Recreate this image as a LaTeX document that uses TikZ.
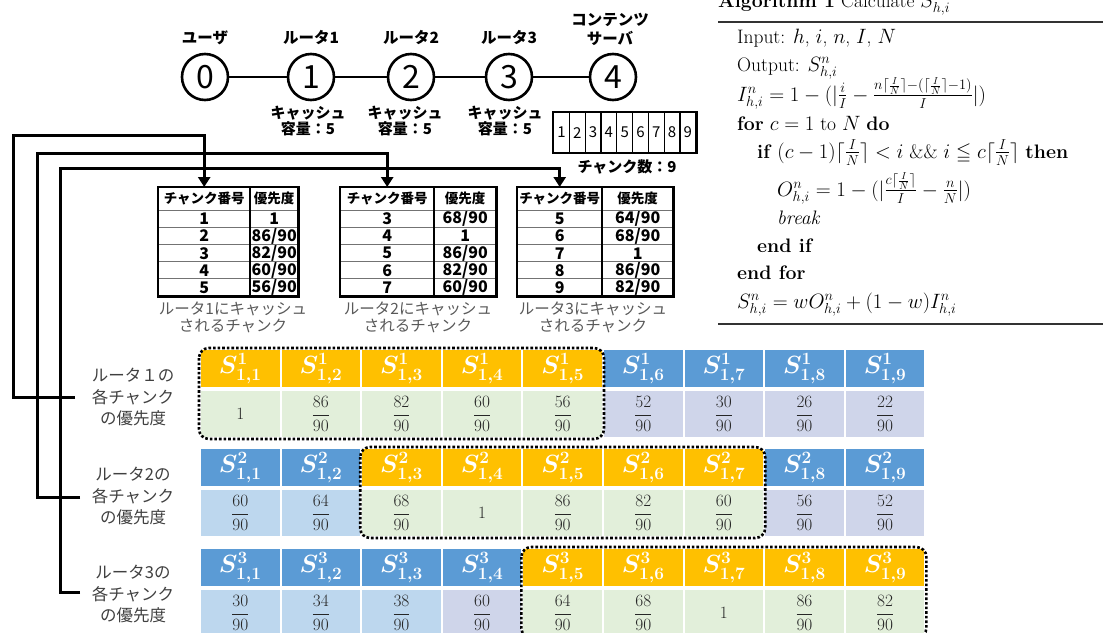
\documentclass[tikz,border=0pt]{standalone}
\usepackage{amsmath,amssymb}
\usepackage{fontspec}
\newfontfamily\jp{Noto Sans CJK JP}
\usetikzlibrary{arrows.meta}
\definecolor{orng}{HTML}{FFC000}
\definecolor{blu}{HTML}{5B9BD5}
\definecolor{grn}{HTML}{E2EFDA}
\definecolor{lbl}{HTML}{BDD7EE}
\definecolor{lav}{HTML}{CFD5EA}
\definecolor{capgray}{HTML}{595959}
\definecolor{rowgray}{HTML}{404040}
\definecolor{valtxt}{HTML}{262626}
\newcommand\setfs[2]{\fontsize{#1}{#2}\selectfont}
\newcommand\pv[1]{\ifnum#1=90 1\else #1/90\fi}
\newcommand\fv[1]{\ifnum#1=90 $1$\else $\displaystyle\frac{#1}{90}$\fi}
\begin{document}
\begin{tikzpicture}[x=1pt,y=-1pt,
 netcirc/.style={circle,draw,line width=2.6pt,minimum size=46pt,inner sep=0pt,font=\jp\setfs{32}{32}},
 netlbl/.style={font=\jp\bfseries\setfs{15.5}{19},align=center,inner sep=0pt},
 netline/.style={line width=2.6pt},
 cachelbl/.style={font=\jp\bfseries\setfs{15}{16.5},align=center,inner sep=0pt},
 chunkcell/.style={draw,line width=1.2pt,minimum width=15.8pt,minimum height=40pt,inner sep=0pt,anchor=north west,font=\jp\setfs{15}{15}},
 thc/.style={minimum height=23pt,inner sep=0pt,anchor=north west,font=\jp\bfseries\setfs{13.5}{14}},
 tdc/.style={minimum height=17.2pt,inner sep=0pt,anchor=north west,font=\jp\bfseries\setfs{16}{16}},
 tabcap/.style={font=\jp\setfs{15.5}{17},text=capgray,align=center,inner sep=0pt},
 conn/.style={line width=3pt},
 arrowend/.style={-{Triangle[width=12pt,length=10pt]}},
 hcell/.style={draw=white,line width=2pt,minimum width=80.6pt,minimum height=39pt,inner sep=0pt,anchor=north west,text=white,font=\setfs{27}{27}},
 vcell/.style={draw=white,line width=2pt,minimum width=80.6pt,minimum height=48pt,inner sep=0pt,anchor=north west,text=valtxt,font=\setfs{19}{19}},
 selbox/.style={draw=black,line width=2.6pt,dash pattern=on 2.6pt off 2pt,rounded corners=10pt},
 rowlbl/.style={font=\jp\setfs{16.5}{21.5},text=rowgray,align=center,inner sep=0pt},
 alg/.style={anchor=base west,inner sep=0pt,font=\setfs{19.5}{23}},
 algrule/.style={line width=1.2pt,draw=black!80}]
\useasboundingbox (0,0) rectangle (1103,632);

% network
\node[netcirc] (c0) at (205,77) {0};
\node[netcirc] (c1) at (311,77) {1};
\node[netcirc] (c2) at (411,77) {2};
\node[netcirc] (c3) at (509,77) {3};
\node[netcirc] (c4) at (613,77) {4};
\draw[netline] (c0) -- (c1) (c1) -- (c2) (c2) -- (c3) (c3) -- (c4);
\node[netlbl] (l0) at (205,38) {ユーザ};
\node[netlbl] (l1) at (311,38) {ルータ1};
\node[netlbl] (l2) at (411,38) {ルータ2};
\node[netlbl] (l3) at (509,38) {ルータ3};
\node[netlbl] (l4) at (610,29) {コンテンツ\\サーバ};
\node[cachelbl] (k1) at (308,121) {キャッシュ\\容量：5};
\node[cachelbl] (k2) at (405,121) {キャッシュ\\容量：5};
\node[cachelbl] (k3) at (505,121) {キャッシュ\\容量：5};
\foreach \i in {1,...,9} \node[chunkcell] (cb\i) at ({553+(\i-1)*15.8},112) {\i};
\draw[line width=2.4pt] (cb1.north west) rectangle (cb9.south east);
\node[cachelbl] (cbl) at (627,167) {チャンク数：9};

% tables
\node[thc,minimum width=92pt] (t1h) at (158,187) {チャンク番号};
\node[thc,minimum width=48pt] (t1p) at (250,187) {優先度};
\foreach \i/\n/\p in {1/1/90,2/2/86,3/3/82,4/4/60,5/5/56}{
  \node[tdc,minimum width=92pt] (t1n\i) at (158,{210+(\i-1)*17.2}) {\n};
  \node[tdc,minimum width=48pt] (t1p\i) at (250,{210+(\i-1)*17.2}) {\pv{\p}};
}
\node[thc,minimum width=94pt] (t2h) at (340,187) {チャンク番号};
\node[thc,minimum width=62pt] (t2p) at (434,187) {優先度};
\foreach \i/\n/\p in {1/3/68,2/4/90,3/5/86,4/6/82,5/7/60}{
  \node[tdc,minimum width=94pt] (t2n\i) at (340,{210+(\i-1)*17.2}) {\n};
  \node[tdc,minimum width=62pt] (t2p\i) at (434,{210+(\i-1)*17.2}) {\pv{\p}};
}
\node[thc,minimum width=85pt] (t3h) at (517,187) {チャンク番号};
\node[thc,minimum width=71pt] (t3p) at (602,187) {優先度};
\foreach \i/\n/\p in {1/5/64,2/6/68,3/7/90,4/8/86,5/9/82}{
  \node[tdc,minimum width=85pt] (t3n\i) at (517,{210+(\i-1)*17.2}) {\n};
  \node[tdc,minimum width=71pt] (t3p\i) at (602,{210+(\i-1)*17.2}) {\pv{\p}};
}
\foreach \a/\b in {158/298,340/496,517/673}
  \foreach \i in {0,...,4} \draw[line width=0.8pt,black!55] (\a,{210+\i*17.2}) -- (\b,{210+\i*17.2});
\foreach \t in {1,2,3}{
  \draw[line width=2.4pt] (t\t h.north west) rectangle (t\t p5.south east);
  \draw[line width=2.4pt] (t\t p.north west) -- (t\t p5.south west);
}
\node[tabcap] (cap1) at (233,317) {ルータ1にキャッシュ\\されるチャンク};
\node[tabcap] (cap2) at (418,317) {ルータ2にキャッシュ\\されるチャンク};
\node[tabcap] (cap3) at (593,317) {ルータ3にキャッシュ\\されるチャンク};

% matrix
\foreach \j/\v/\hc/\vc in {1/90/orng/grn,2/86/orng/grn,3/82/orng/grn,4/60/orng/grn,5/56/orng/grn,6/52/blu/lav,7/30/blu/lav,8/26/blu/lav,9/22/blu/lav}{
  \node[hcell,fill=\hc] (s1-\j) at ({199+(\j-1)*80.6},348) {$\boldsymbol{S^{1}_{1,\j}}$};
  \node[vcell,fill=\vc] (v1-\j) at ({199+(\j-1)*80.6},389) {\fv{\v}};
}
\foreach \j/\v/\hc/\vc in {1/60/blu/lbl,2/64/blu/lbl,3/68/orng/grn,4/90/orng/grn,5/86/orng/grn,6/82/orng/grn,7/60/orng/grn,8/56/blu/lav,9/52/blu/lav}{
  \node[hcell,fill=\hc] (s2-\j) at ({199+(\j-1)*80.6},447) {$\boldsymbol{S^{2}_{1,\j}}$};
  \node[vcell,fill=\vc] (v2-\j) at ({199+(\j-1)*80.6},488) {\fv{\v}};
}
\foreach \j/\v/\hc/\vc in {1/30/blu/lbl,2/34/blu/lbl,3/38/blu/lbl,4/60/blu/lav,5/64/orng/grn,6/68/orng/grn,7/90/orng/grn,8/86/orng/grn,9/82/orng/grn}{
  \node[hcell,fill=\hc] (s3-\j) at ({199+(\j-1)*80.6},547) {$\boldsymbol{S^{3}_{1,\j}}$};
  \node[vcell,fill=\vc] (v3-\j) at ({199+(\j-1)*80.6},588) {\fv{\v}};
}
\draw[selbox] (s1-1.north west) rectangle (v1-5.south east);
\draw[selbox] (s2-3.north west) rectangle (v2-7.south east);
\draw[selbox] (s3-5.north west) rectangle (v3-9.south east);

\node[rowlbl] (rl1) at (133,397) {ルータ１の\\各チャンク\\の優先度};
\node[rowlbl] (rl2) at (133,496) {ルータ2の\\各チャンク\\の優先度};
\node[rowlbl] (rl3) at (133,594) {ルータ3の\\各チャンク\\の優先度};

% connectors
\coordinate (e1) at (75,397); \coordinate (a1) at (13,397); \coordinate (b1) at (13,135);
\coordinate (e2) at (80,497); \coordinate (a2) at (37,497); \coordinate (b2) at (37,153);
\coordinate (e3) at (80,592); \coordinate (a3) at (60,592); \coordinate (b3) at (60,168);
\draw[conn,arrowend] (e1) -- (a1) -- (b1) -| (t1h.north);
\draw[conn,arrowend] (e2) -- (a2) -- (b2) -| (t2h.north);
\draw[conn,arrowend] (e3) -- (a3) -- (b3) -| (t3h.north);

% algorithm
\node[alg] (ah) at (718,7) {\textbf{Algorithm 1} Calculate $S^n_{h,i}$};
\draw[algrule] (718,22) -- (1103,22);
\node[alg] (a01) at (737,43) {Input: $h$, $i$, $n$, $I$, $N$};
\node[alg] (a02) at (737,71) {Output: $S^n_{h,i}$};
\node[alg] (a03) at (737,101) {$I^n_{h,i}=1-(|\frac{i}{I}-\frac{n\lceil\frac{I}{N}\rceil-(\lceil\frac{I}{N}\rceil-1)}{I}|)$};
\node[alg] (a04) at (737,130) {\textbf{for} $c=1$ to $N$ \textbf{do}};
\node[alg] (a05) at (757,158) {\textbf{if} $(c-1)\lceil\frac{I}{N}\rceil<i\ \&\&\ i\leqq c\lceil\frac{I}{N}\rceil$ \textbf{then}};
\node[alg] (a06) at (777,196) {$O^n_{h,i}=1-(|\frac{c\lceil\frac{I}{N}\rceil}{I}-\frac{n}{N}|)$};
\node[alg] (a07) at (777,224) {\textit{break}};
\node[alg] (a08) at (757,252) {\textbf{end if}};
\node[alg] (a09) at (737,279) {\textbf{end for}};
\node[alg] (a10) at (737,308) {$S^n_{h,i}=wO^n_{h,i}+(1-w)I^n_{h,i}$};
\draw[algrule] (718,324) -- (1103,324);
\end{tikzpicture}
\end{document}
